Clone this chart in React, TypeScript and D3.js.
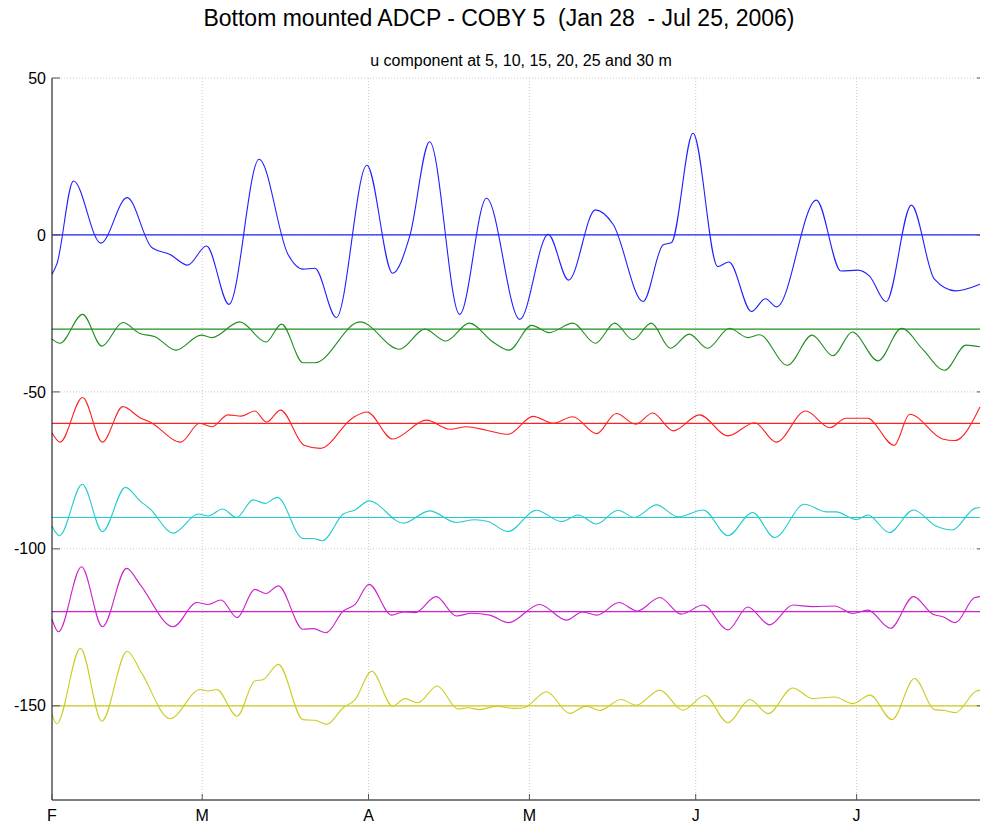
import React from "react";
import * as d3 from "d3";

// ---- data (days since 2006-02-01, raw u in cm/s; plotted with offsets) ----
const monthTickDays = [0, 28, 59, 89, 120, 150];
const monthTickLabels = ["F", "M", "A", "M", "J", "J"];
const yTicks = [50, 0, -50, -100, -150];
const offsets = [0, -30, -60, -90, -120, -150];
const depthLabels = ["5 m", "10 m", "15 m", "20 m", "25 m", "30 m"];
const colors = ["#2020ff", "#1f8f1f", "#ff2020", "#22cccc", "#cc22cc", "#cccc22"];

const u5Days = [0, 0.9, 4.0, 9.1, 14.0, 18.6, 22, 25.3, 28.8, 33.0, 38.6, 44.0, 46.8, 49, 53.0, 58.7, 63.5, 66.7, 70.4, 76.0, 81.0, 87.2, 92.5, 96.3, 101.3, 104.6, 110.2, 113.9, 115.5, 119.5, 124.1, 126.2, 130.4, 133.0, 135.1, 142.5, 147.1, 150.2, 152.4, 155.5, 160.2, 164.5, 168.4, 173];
const u5Vals = [-12.5, -9.3, 17.2, -2.6, 11.9, -4.0, -6.2, -9.6, -3.5, -22.1, 24.1, -6.2, -10.9, -10.6, -26.3, 22.2, -12.2, -0.3, 29.7, -25.3, 11.7, -26.9, 0.2, -14.4, 8.0, 3.4, -21.2, -3.2, -2.4, 32.4, -10.1, -8.6, -24.4, -20.3, -22.9, 11.1, -11.5, -11.2, -13.1, -21.3, 9.5, -14.1, -17.8, -15.7];

const u10Days = [0, 1.5, 5.7, 9.3, 13.2, 16.4, 19.2, 23.1, 27.8, 29.8, 35.0, 39.9, 42.8, 46.8, 49, 57.4, 64.8, 69.5, 73.4, 77.8, 82.2, 85.2, 89.4, 92.7, 97.1, 101.3, 104.9, 108.3, 111.7, 115.3, 118.8, 122.2, 126.3, 129.7, 131.9, 137.1, 141.7, 145.6, 149.2, 154.0, 158.4, 162.3, 166.4, 170.4, 173];
const u10Vals = [-3.2, -4.5, 4.7, -5.4, 2.1, -1.4, -2.4, -6.7, -1.9, -2.7, 2.3, -4.1, 1.6, -10.7, -10.7, 2.3, -6.4, 0, -3.8, 1.9, -4.1, -6.7, 1.2, -1.1, 1.9, -4.5, 1.9, -3.4, 1.9, -6.1, -1.6, -6.1, 0.3, -2.7, -1.8, -11.5, -1.9, -8.5, -0.9, -10.1, 0.3, -6.4, -13.1, -5.1, -5.6];

const u15Days = [0, 1.5, 5.7, 9.4, 13.2, 16.4, 18.5, 24, 27.5, 29.8, 32.8, 35.3, 37.8, 40.0, 42.6, 47, 50, 56.1, 58.7, 63.5, 69.8, 74.2, 77.3, 81, 85, 89.7, 93.4, 97.1, 101.5, 105.2, 108.8, 112, 115.8, 120.7, 126, 131, 135, 140.5, 145, 148, 152, 157, 159.9, 166, 168.3, 173];
const u15Vals = [-3, -6, 8.2, -6, 5.3, 1.8, 0.2, -6, 0, -1.1, 2.7, 2.3, 3.9, 0.4, 4.2, -7, -8, 1.8, 3.6, -5, 1.0, -1.9, -1.1, -2.2, -3.5, 2.2, 0, 2.1, -3.3, 3.1, -0.3, 3.3, -2.4, 2.7, -4, 0.2, -6, 3.9, -1.4, 1.6, 1.6, -7, 2.9, -5, -5.5, 5.2];

const u20Days = [0, 1.4, 5.65, 9.4, 13.7, 16.4, 18.3, 22.6, 27.3, 29.1, 31.8, 34.4, 37.5, 39.7, 42.0, 46.8, 48.7, 50.4, 54.3, 56.5, 59.1, 65.5, 70.4, 75.4, 78.8, 81.3, 85.0, 90.3, 95.0, 98.1, 101.5, 105.5, 108.6, 112.7, 116.7, 121.4, 126.0, 130.6, 134.7, 140.3, 144.3, 146.2, 150.0, 152.1, 156.1, 160.6, 164.8, 167.8, 172, 173];
const u20Vals = [-2.7, -5.8, 10.6, -4.5, 9.6, 5.3, 2.7, -5.0, 1.1, 0.5, 2.7, 0, 5.6, 4.5, 6.4, -6.7, -6.7, -7.4, 1.1, 2.4, 5.3, -1.8, 2.1, -1.6, -0.7, -1.3, -4.5, 2.3, -1.3, 0.8, -2.1, 2.3, 0, 4.0, 0.2, 2.4, -5.8, 1.6, -6.4, 4.2, 1.8, 1.8, -0.7, 0.8, -4.8, 2.4, -2.7, -4.0, 2.9, 3.2];

const u25Days = [0, 1.2, 5.5, 9.4, 13.9, 16.4, 22.6, 27.0, 29.1, 31.5, 34.5, 37.8, 39.9, 42.2, 46.8, 48.7, 51.1, 54.3, 56.5, 59.1, 63.3, 65.5, 67.7, 71.6, 75.4, 78.2, 81.6, 85.1, 90.9, 95.9, 98.9, 101.6, 105.7, 109.1, 113.3, 117.3, 121.4, 126.0, 129.7, 133.8, 138.1, 141.8, 145.9, 149.3, 152.1, 156.3, 160.6, 164.2, 166.1, 168.4, 172, 173];
const u25Vals = [-2.4, -6.4, 14.3, -4.8, 13.8, 8.7, -4.8, 2.9, 2.3, 3.7, -1.9, 7.1, 5.8, 8.2, -5.6, -5.4, -6.7, 0.2, 2.3, 8.7, -1.1, -0.1, -0.3, 4.8, -1.4, -0.5, -1.1, -3.5, 2.3, -2.7, -0.1, -1.1, 2.9, 0.2, 4.5, -0.8, 2.1, -5.8, 1.5, -4.2, 2.1, 1.6, 1.8, -0.6, 0.5, -5.3, 4.8, -0.8, -1.6, -3.5, 4.5, 4.8];

const u30Days = [0, 0.9, 5.3, 9.3, 14.0, 16.7, 22.0, 27.6, 29.1, 30.7, 34.5, 37.8, 39.4, 42.2, 46.8, 49, 51.2, 54.3, 56.5, 59.6, 63.5, 65.8, 68.2, 71.8, 75.7, 77.5, 79.6, 82.9, 86, 88, 92.2, 96.5, 99.6, 102.1, 106.1, 108.9, 113.3, 117.6, 121.7, 126.0, 130.1, 133.5, 138.1, 141.8, 145.9, 149.3, 152.5, 156.6, 160.8, 164.5, 166.4, 168.4, 172.3, 173];
const u30Vals = [-2.8, -5.7, 18.3, -4.9, 17.4, 10.5, -4.1, 5.2, 4.7, 5.2, -3.3, 7.9, 8.4, 13.2, -4.4, -4.6, -5.9, -0.6, 2.0, 11.0, -0.1, 2.3, 1.0, 6.3, -1.0, -0.6, -1.2, -0.1, -0.8, -0.6, 4.5, -2.4, -0.1, -1.5, 2.0, 0.2, 5.0, -1.4, 3.3, -5.4, 2.0, -2.5, 5.7, 2.3, 2.8, 0.7, 3.4, -4.4, 8.7, -1.2, -1.5, -2.2, 4.7, 5.0];

const seriesDays = [u5Days, u10Days, u15Days, u20Days, u25Days, u30Days];
const seriesVals = [u5Vals, u10Vals, u15Vals, u20Vals, u25Vals, u30Vals];

const W = 981;
const H = 828;
const M = { left: 52, right: 980, top: 78, bottom: 800 };
const FONT = "'Liberation Sans', Arial, Helvetica, sans-serif";

export default function App() {
  const x = d3.scaleLinear().domain([0, 173]).range([M.left, M.right]);
  const y = d3.scaleLinear().domain([-180, 50]).range([M.bottom, M.top]);

  const line = d3
    .line<[number, number]>()
    .x((d) => x(d[0]))
    .y((d) => y(d[1]))
    .curve(d3.curveMonotoneX);

  return (
    <svg
      width={W}
      height={H}
      style={{ position: "absolute", left: 0, top: 0, background: "#fff" }}
      fontFamily={FONT}
    >
      <rect x={0} y={0} width={W} height={H} fill="#fff" />
      {/* grid */}
      {yTicks.map((t) => (
        <line
          key={"gy" + t}
          x1={M.left}
          x2={M.right}
          y1={y(t)}
          y2={y(t)}
          stroke="#c8c8c8"
          strokeWidth={1}
          strokeDasharray="1,2"
        />
      ))}
      {monthTickDays.slice(1).map((t) => (
        <line
          key={"gx" + t}
          x1={x(t)}
          x2={x(t)}
          y1={M.top}
          y2={M.bottom}
          stroke="#c8c8c8"
          strokeWidth={1}
          strokeDasharray="1,2"
        />
      ))}
      {/* zero lines per depth */}
      {offsets.map((o, i) => (
        <line
          key={"z" + i}
          x1={M.left}
          x2={M.right}
          y1={y(o)}
          y2={y(o)}
          stroke={colors[i]}
          strokeWidth={1.2}
        />
      ))}
      {/* series */}
      {seriesDays.map((days, i) => {
        const pts: [number, number][] = days.map((d, k) => [d, seriesVals[i][k] + offsets[i]]);
        return (
          <path
            key={"s" + i}
            d={line(pts) || ""}
            fill="none"
            stroke={colors[i]}
            strokeWidth={1.1}
            aria-label={depthLabels[i]}
          />
        );
      })}
      {/* axes */}
      <line x1={M.left} x2={M.left} y1={M.top} y2={M.bottom} stroke="#000" strokeWidth={1} />
      <line x1={M.left} x2={M.right} y1={M.bottom} y2={M.bottom} stroke="#000" strokeWidth={1} />
      {yTicks.map((t) => (
        <g key={"ty" + t}>
          <line x1={M.left} x2={M.left + 8} y1={y(t)} y2={y(t)} stroke="#555" />
          <line x1={M.right - 3} x2={M.right} y1={y(t)} y2={y(t)} stroke="#555" />
          <text x={M.left - 6} y={y(t)} dy="0.35em" textAnchor="end" fontSize={16} fill="#000">
            {t}
          </text>
        </g>
      ))}
      {monthTickDays.map((t, i) => (
        <g key={"tx" + i}>
          <line x1={x(t)} x2={x(t)} y1={M.bottom} y2={M.bottom - 6} stroke="#555" />
          <text x={x(t)} y={M.bottom + 21} textAnchor="middle" fontSize={16} fill="#000">
            {monthTickLabels[i]}
          </text>
        </g>
      ))}
      {/* titles */}
      <text x={499} y={26} textAnchor="middle" fontSize={23} fill="#000">
        Bottom mounted ADCP - COBY 5{"\u00a0\u00a0"}(Jan 28{"\u00a0\u00a0"}- Jul 25, 2006)
      </text>
      <text x={521} y={66} textAnchor="middle" fontSize={16} fill="#000">
        u component at 5, 10, 15, 20, 25 and 30 m
      </text>
    </svg>
  );
}
